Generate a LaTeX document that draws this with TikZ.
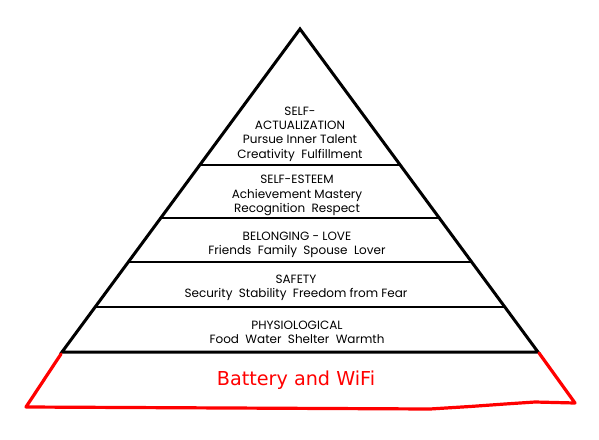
\documentclass[tikz,border=0pt]{standalone}
\usepackage{fontspec}
\setmainfont{Poppins}
\newfontfamily\wififont{DejaVu Sans}
\usetikzlibrary{calc}

\begin{document}
\begin{tikzpicture}[x=1pt, y=-1pt,
    tier/.style={font=\fontsize{12}{14.3}\selectfont, align=center, inner sep=0pt},
    outline/.style={line width=3pt},
    divider/.style={line width=2.5pt}]
  \useasboundingbox (0,0) rectangle (599,439);
  % corners of the pyramid
  \coordinate (apex) at (300,29);
  \coordinate (bl) at (62,352);
  \coordinate (br) at (538,352);
  % pyramid and its tiers
  \draw[outline] (bl) -- (apex) -- (br) -- cycle;
  \foreach \t in {0.421,0.585,0.7214,0.8607}
    \draw[divider] ($(apex)!\t!(bl)$) -- ($(apex)!\t!(br)$);
  % texts of the tiers
  \node[tier] (selfact) at (300,134) {SELF-\\ACTUALIZATION\\Pursue Inner Talent\\Creativity\ \ Fulfillment};
  \node[tier] (esteem) at (297,195.5) {SELF-ESTEEM\\Achievement Mastery\\Recognition\ \ Respect};
  \node[tier] (love) at (297,245) {BELONGING - LOVE\\Friends\ \ Family\ \ Spouse\ \ Lover};
  \node[tier] (safety) at (296,288) {SAFETY\\Security\ \ Stability\ \ Freedom from Fear};
  \node[tier] (physio) at (297,332) {PHYSIOLOGICAL\\Food\ \ Water\ \ Shelter\ \ Warmth};
  % the added red tier
  \coordinate (wl) at (26,407);
  \coordinate (wr) at (575,403);
  \draw[red, line width=3.2pt, line join=round, line cap=round]
    (61,354) -- (wl) -- (430,409) -- (470,406.5) -- (505,404) -- (535,402) -- (wr) -- (539,353);
  \node[font=\wififont\fontsize{19.2}{20}\selectfont, text=red, inner sep=0pt] (wifi) at (296,380) {Battery and WiFi};
\end{tikzpicture}
\end{document}
